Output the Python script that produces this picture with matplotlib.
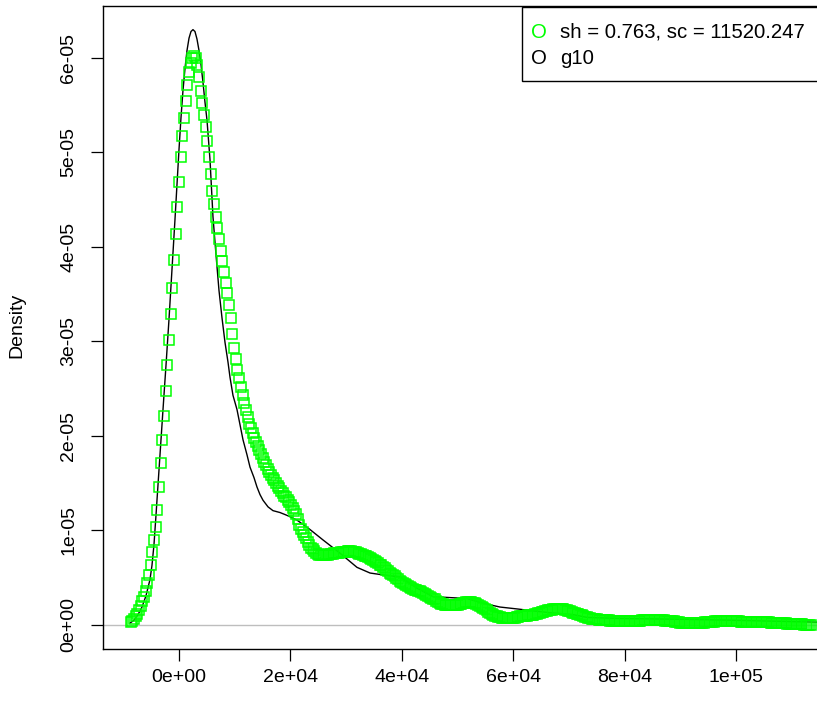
import numpy as np
import matplotlib.pyplot as plt
from matplotlib.patches import Rectangle

plt.rcParams['font.family'] = ['Liberation Sans', 'DejaVu Sans']

W, H = 817, 702

# fitted density (green squares), values in units of 1e-5
# first block on a 300 step from -8700 to 12000
green_peak = [
    0.03, 0.04, 0.06, 0.09, 0.12, 0.16, 0.20, 0.25, 0.30, 0.36,
    0.44, 0.53, 0.64, 0.77, 0.90, 1.04, 1.22, 1.46, 1.71, 1.96,
    2.21, 2.48, 2.75, 3.02, 3.29, 3.57, 3.86, 4.14, 4.42, 4.69,
    4.95, 5.17, 5.37, 5.55, 5.71, 5.85, 5.95, 6.00, 6.02, 6.00,
    5.93, 5.80, 5.65, 5.52, 5.40, 5.27, 5.12, 4.95, 4.77, 4.59,
    4.45, 4.32, 4.20, 4.08, 3.96, 3.85, 3.73, 3.62, 3.51, 3.39,
    3.25, 3.08, 2.93, 2.81, 2.70, 2.61, 2.52, 2.43, 2.35, 2.27,
]
# second block on a 300 step from 12300 to 113400 (20 values per row)
green_tail = [
    2.20, 2.13, 2.08, 2.03, 1.98, 1.94, 1.89, 1.85, 1.81, 1.77,
    1.73, 1.69, 1.65, 1.62, 1.59, 1.56, 1.53, 1.50, 1.47, 1.45,
    1.42, 1.40, 1.37, 1.35, 1.32, 1.30, 1.27, 1.24, 1.21, 1.17,
    1.12, 1.06, 1.02, 0.98, 0.95, 0.92, 0.88, 0.85, 0.82, 0.80,
    0.78, 0.76, 0.75, 0.745, 0.74, 0.74, 0.74, 0.74, 0.745, 0.75,
    0.75, 0.755, 0.76, 0.76, 0.765, 0.765, 0.77, 0.77, 0.775, 0.775,
    0.78, 0.78, 0.78, 0.775, 0.775, 0.77, 0.765, 0.755, 0.75, 0.74,
    0.73, 0.725, 0.715, 0.705, 0.695, 0.685, 0.675, 0.665, 0.655, 0.64,
    0.63, 0.615, 0.60, 0.585, 0.57, 0.555, 0.54, 0.53, 0.515, 0.50,
    0.485, 0.47, 0.455, 0.44, 0.43, 0.42, 0.41, 0.40, 0.39, 0.385,
    0.375, 0.37, 0.36, 0.355, 0.345, 0.34, 0.33, 0.32, 0.31, 0.30,
    0.29, 0.28, 0.27, 0.255, 0.245, 0.235, 0.225, 0.22, 0.215, 0.21,
    0.21, 0.21, 0.21, 0.21, 0.21, 0.215, 0.215, 0.22, 0.225, 0.23,
    0.235, 0.24, 0.24, 0.24, 0.24, 0.235, 0.23, 0.225, 0.215, 0.20,
    0.19, 0.18, 0.17, 0.155, 0.14, 0.13, 0.12, 0.11, 0.10, 0.09,
    0.085, 0.08, 0.078, 0.075, 0.072, 0.07, 0.07, 0.07, 0.072, 0.075,
    0.078, 0.08, 0.085, 0.09, 0.092, 0.095, 0.098, 0.10, 0.102, 0.105,
    0.108, 0.11, 0.115, 0.12, 0.125, 0.13, 0.135, 0.14, 0.145, 0.15,
    0.155, 0.16, 0.163, 0.165, 0.168, 0.17, 0.17, 0.17, 0.168, 0.165,
    0.163, 0.16, 0.153, 0.145, 0.138, 0.13, 0.125, 0.12, 0.115, 0.11,
    0.102, 0.095, 0.088, 0.08, 0.075, 0.07, 0.068, 0.065, 0.062, 0.06,
    0.058, 0.055, 0.052, 0.05, 0.05, 0.05, 0.048, 0.045, 0.045, 0.045,
    0.042, 0.04, 0.04, 0.04, 0.04, 0.04, 0.04, 0.04, 0.04, 0.04,
    0.04, 0.04, 0.042, 0.045, 0.045, 0.045, 0.048, 0.05, 0.05, 0.05,
    0.05, 0.05, 0.05, 0.05, 0.05, 0.05, 0.05, 0.05, 0.05, 0.048,
    0.045, 0.045, 0.045, 0.042, 0.04, 0.038, 0.035, 0.032, 0.03, 0.025,
    0.022, 0.02, 0.02, 0.02, 0.02, 0.02, 0.02, 0.02, 0.02, 0.02,
    0.02, 0.02, 0.022, 0.025, 0.028, 0.03, 0.03, 0.03, 0.032, 0.035,
    0.038, 0.04, 0.04, 0.04, 0.04, 0.04, 0.04, 0.04, 0.04, 0.04,
    0.04, 0.04, 0.04, 0.04, 0.038, 0.035, 0.035, 0.035, 0.032, 0.03,
    0.03, 0.03, 0.03, 0.03, 0.03, 0.03, 0.03, 0.03, 0.03, 0.03,
    0.03, 0.03, 0.028, 0.025, 0.025, 0.025, 0.022, 0.02, 0.02, 0.02,
    0.02, 0.02, 0.018, 0.015, 0.015, 0.015, 0.012, 0.01, 0.01, 0.01,
    0.01, 0.01, 0.008, 0.005, 0.003, 0.0, 0.0, 0.0,
]

# kernel density of g10 (black line)
black_x = [
    -8800, -8080, -7360, -6640, -5920, -5210, -4850, -4490, -4130, -3770,
    -3410, -2870, -2330, -1800, -1260, -720, -360, 0, 360, 720,
    1080, 1440, 1800, 2150, 2510, 2870, 3230, 3590, 3950, 4310,
    4670, 5030, 5570, 6100, 6640, 7180, 7720, 8260, 8800, 9160,
    9690, 10410, 10950, 11490, 12210, 12750, 13460, 14000, 14540, 15080,
    15980, 16870, 18130, 19390, 21180, 23520, 25850, 28900, 31950, 34290,
    36620, 39670, 42720, 45590, 48650, 51700, 54570, 57620, 60670, 63540,
    66600, 70720, 73240, 78620, 90470, 99440, 114520,
]
black_y = [
    0.02, 0.05, 0.11, 0.19, 0.31, 0.48, 0.63, 0.85, 1.16, 1.48,
    1.80, 2.28, 2.75, 3.23, 3.76, 4.29, 4.66, 5.03, 5.37, 5.66,
    5.89, 6.08, 6.21, 6.28, 6.30, 6.28, 6.20, 6.08, 5.93, 5.74,
    5.53, 5.34, 4.92, 4.32, 3.92, 3.54, 3.25, 2.99, 2.78, 2.62,
    2.43, 2.28, 2.12, 1.96, 1.80, 1.67, 1.56, 1.46, 1.38, 1.32,
    1.25, 1.21, 1.19, 1.16, 1.11, 1.01, 0.90, 0.76, 0.61, 0.55,
    0.53, 0.51, 0.39, 0.30, 0.29, 0.28, 0.23, 0.19, 0.17, 0.15,
    0.13, 0.11, 0.08, 0.07, 0.06, 0.05, 0.03,
]

xticks = [0, 2e4, 4e4, 6e4, 8e4, 1e5]
xtick_labels = ['0e+00', '2e+04', '4e+04', '6e+04', '8e+04', '1e+05']
yticks = [0, 1e-5, 2e-5, 3e-5, 4e-5, 5e-5, 6e-5]
ytick_labels = ['0e+00', '1e-05', '2e-05', '3e-05', '4e-05', '5e-05', '6e-05']

legend_labels = ['sh = 0.763, sc = 11520.247', 'g10']
legend_colors = ['#00FF00', 'black']

green_x = np.concatenate([np.linspace(-8700, 12000, len(green_peak)),
                          np.linspace(12300, 113400, len(green_tail))])
green_y = np.array(green_peak + green_tail) * 1e-5


def fx(px):
    return px / W


def fy(py):
    return 1 - py / H


fig = plt.figure(figsize=(W / 100, H / 100), dpi=100)
ax = fig.add_axes([fx(103), fy(649), (835 - 103) / W, (649 - 6) / H])
ax.set_xlim(-13640, 117750)
ax.set_ylim(-0.254e-5, 6.55e-5)

ax.axhline(0, color='#BEBEBE', lw=1)
ax.plot(black_x, np.array(black_y) * 1e-5, color='black', lw=1)
ax.plot(green_x, green_y, ls='none', marker='s', ms=6.8, mfc='none',
        mec='#00FF00', mew=1.1)

ax.set_xticks(xticks, xtick_labels)
ax.set_yticks(yticks, ytick_labels)
ax.tick_params(direction='out', length=8.6, width=0.9, labelsize=14)
ax.tick_params(axis='x', pad=5.5)
ax.tick_params(axis='y', pad=10, labelrotation=90)
for lbl in ax.get_yticklabels():
    lbl.set_va('center')
for sp in ax.spines.values():
    sp.set_linewidth(1.0)

fig.text(fx(17), fy(325), 'Density', rotation=90, ha='center', va='center',
         fontsize=14)

# legend box in the top right corner
fig.add_artist(Rectangle((fx(522), fy(81)), (840 - 522) / W, (81 - 7) / H,
                         transform=fig.transFigure, facecolor='white',
                         edgecolor='black', lw=1))
for i, (lab, col) in enumerate(zip(legend_labels, legend_colors)):
    yy = fy(32 + 26 * i)
    fig.text(fx(539), yy, 'O', color=col, ha='center', va='center', fontsize=14.7)
    fig.text(fx(560), yy, lab, color='black', ha='left', va='center', fontsize=14.7)

fig.savefig('out.png', dpi=100, facecolor='white')
